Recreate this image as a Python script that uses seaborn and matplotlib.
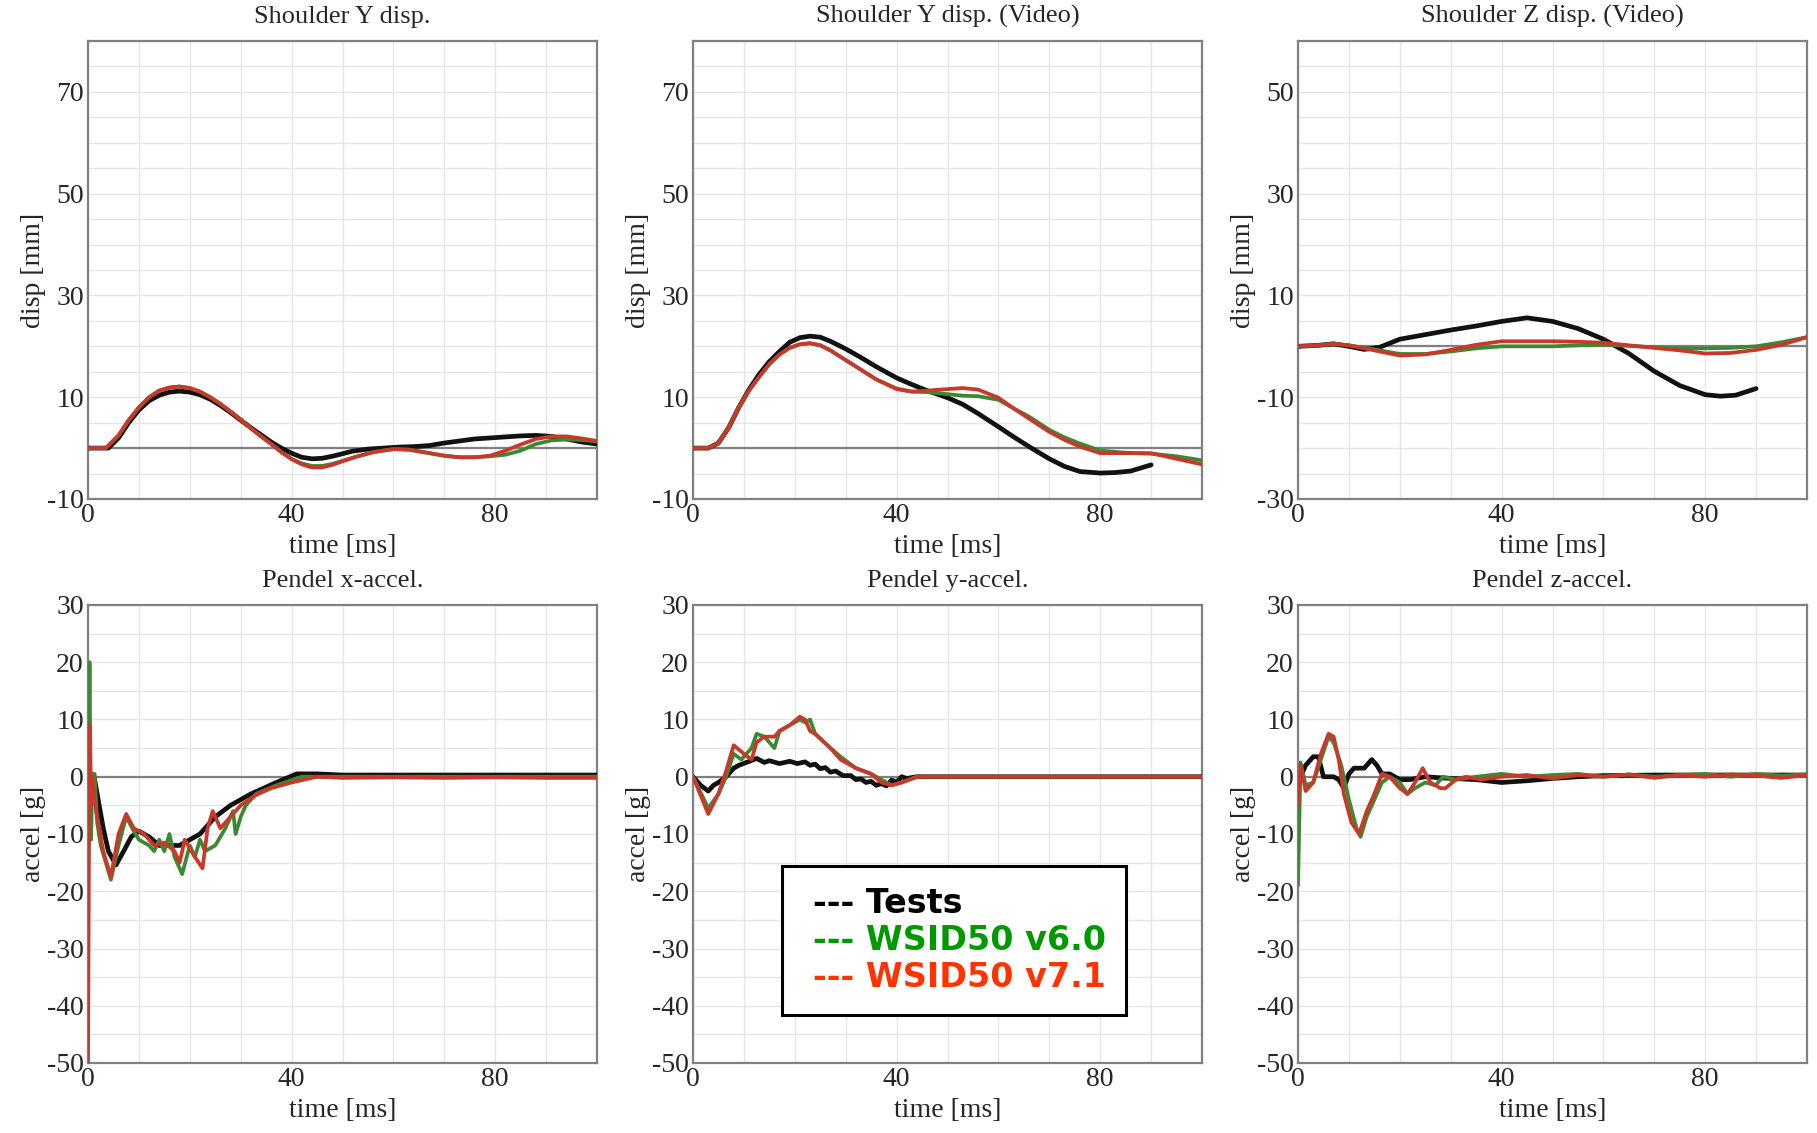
import numpy as np
import pandas as pd
import matplotlib
matplotlib.use("Agg")
import matplotlib.pyplot as plt
from matplotlib.ticker import MultipleLocator
from matplotlib.lines import Line2D
import seaborn as sns

sns.set_theme(style="whitegrid")
plt.rcParams['font.family'] = ['Liberation Serif', 'DejaVu Serif']
plt.rcParams['axes.unicode_minus'] = False

# ---- Shoulder Y disp. ----
p1_test_t = [0, 4, 6, 8, 10, 12, 14, 16, 18, 20, 22, 24, 26, 28, 30, 32, 34, 36, 38, 40, 42, 44, 46, 48, 50,
             52, 55, 58, 61, 64, 67, 70, 73, 76, 79, 82, 85, 88, 91, 94, 97, 100]
p1_test_v = [0, 0, 2, 5, 7.5, 9.3, 10.4, 11, 11.2, 11, 10.5, 9.6, 8.4, 7, 5.5, 4, 2.6, 1.2, 0, -1, -1.8, -2.1, -2,
             -1.6, -1.1, -0.6, -0.2, 0, 0.2, 0.3, 0.5, 1, 1.4, 1.8, 2, 2.2, 2.4, 2.5, 2.3, 1.8, 1.2, 0.8]
p1_sim_t = [0, 3.5, 6, 8, 10, 12, 14, 16, 18, 20, 22, 24, 26, 28, 30, 32, 34, 36, 38, 40, 42, 44, 46, 48, 50,
            53, 56, 60, 63, 66, 70, 73, 76, 79, 82, 85, 88, 91, 94, 97, 100]
p1_v60_v = [0, 0, 2.5, 5.5, 8, 10, 11.3, 11.9, 12.1, 11.8, 11.1, 10, 8.7, 7.2, 5.6, 3.9, 2.3, 0.8, -0.8, -2.1, -3,
            -3.5, -3.5, -3.1, -2.5, -1.6, -0.8, -0.2, -0.3, -0.8, -1.5, -1.8, -1.8, -1.6, -1.3, -0.5, 0.8, 1.5,
            1.7, 1.6, 1.3]
p1_v71_v = [0, 0, 2.5, 5.5, 8, 10, 11.3, 11.9, 12.1, 11.8, 11.1, 10, 8.7, 7.2, 5.6, 3.9, 2.3, 0.8, -0.8, -2.2, -3.2,
            -3.8, -3.8, -3.3, -2.6, -1.6, -0.8, -0.2, -0.3, -0.8, -1.5, -1.8, -1.8, -1.5, -0.5, 0.7, 1.8, 2.3,
            2.3, 1.9, 1.4]

# ---- Shoulder Y disp. (Video) ----
p2_test_t = [0, 3, 5, 7, 9, 11, 13, 15, 17, 19, 21, 23, 25, 27, 30, 33, 36, 40, 43, 46, 50, 53, 56, 60, 63, 66,
             70, 73, 76, 80, 83, 86, 90]
p2_test_v = [0, 0, 1, 4, 8, 11.5, 14.5, 17, 19, 20.8, 21.7, 22, 21.8, 21, 19.5, 17.8, 16, 13.8, 12.5, 11.3, 9.9,
             8.6, 6.8, 4.2, 2.2, 0.3, -2.1, -3.6, -4.6, -4.9, -4.8, -4.5, -3.3]
p2_sim_t = [0, 3, 5, 7, 9, 11, 13, 15, 17, 19, 21, 23, 25, 27, 30, 33, 36, 40, 43, 46, 50, 53, 56, 60, 63, 66,
            70, 73, 76, 80, 85, 90, 95, 100]
p2_v60_v = [0, 0, 1, 4, 8, 11.3, 14, 16.5, 18.4, 19.7, 20.4, 20.6, 20.2, 19.2, 17.3, 15.4, 13.5, 11.7, 11.1, 11,
            10.6, 10.3, 10.2, 9.5, 7.8, 6.2, 3.6, 2.1, 0.9, -0.5, -0.9, -1.1, -1.6, -2.4]
p2_v71_v = [0, 0, 1, 4, 8, 11.3, 14, 16.5, 18.4, 19.7, 20.4, 20.6, 20.2, 19.2, 17.3, 15.4, 13.5, 11.6, 11.1, 11.3,
            11.6, 11.8, 11.5, 9.9, 7.8, 5.8, 3.2, 1.6, 0.3, -1, -1, -1, -2.1, -3.2]

# ---- Shoulder Z disp. (Video) ----
p3_test_t = [0, 4, 7, 10, 13, 16, 20, 25, 30, 35, 40, 45, 50, 55, 60, 65, 70, 75, 80, 83, 86, 90]
p3_test_v = [0, 0.2, 0.5, 0, -0.6, -0.2, 1.4, 2.3, 3.2, 4, 4.9, 5.6, 4.9, 3.5, 1.4, -1.4, -4.9, -7.7, -9.5, -9.8,
             -9.6, -8.3]
p3_sim_t = [0, 4, 7, 10, 15, 20, 25, 30, 35, 40, 45, 50, 55, 60, 65, 70, 75, 80, 85, 90, 95, 100]
p3_v60_v = [0, 0.2, 0.5, 0.2, -0.6, -1.5, -1.5, -1, -0.4, 0, 0, 0, 0.2, 0.3, 0.1, -0.2, -0.4, -0.4, -0.3, 0, 0.8,
            1.8]
p3_v71_v = [0, 0.2, 0.5, 0.2, -0.8, -1.8, -1.6, -0.7, 0.3, 1, 1, 1, 0.9, 0.7, 0.2, -0.3, -0.8, -1.4, -1.3, -0.7,
            0.3, 1.8]

# ---- Pendel x-accel. ----
p4_test_t = [1.2, 2, 3, 4, 5.5, 7, 8.5, 10, 12, 14, 16, 18, 20, 22, 25, 28, 32, 37, 41, 45, 50, 60, 70, 80, 90, 100]
p4_test_v = [0, -4, -9, -13, -15.4, -13, -10.5, -9.5, -10.5, -12, -12, -12, -11, -10, -7, -5, -3, -1, 0.5, 0.5,
             0.3, 0.3, 0.3, 0.3, 0.3, 0.3]
p4_v60_t = [0, 0.3, 0.6, 0.9, 1.3, 1.8, 2.5, 3.5, 4.5, 6, 7.5, 9, 10, 12, 13, 14, 15, 16, 17, 18.5, 20, 21, 22,
            23, 25, 27, 28.5, 29, 30, 31, 33, 37, 42, 50, 60, 70, 80, 90, 100]
p4_v60_v = [-10, 20, -11, 0.5, 0.5, -8, -12, -15, -18, -12, -7, -9.5, -11, -12, -13, -11, -13, -10, -14, -17, -12,
            -14, -11, -13, -12, -9, -6, -10, -7, -5, -3, -1.5, 0, 0, 0, 0, 0, 0, 0]
p4_v71_t = [0, 0.3, 0.6, 0.9, 1.2, 1.6, 2.2, 3, 4.5, 6, 7.5, 9, 11, 13, 15, 17, 18, 19, 21, 22.5, 23.5, 24.5, 26,
            28, 30, 33, 36, 40, 45, 50, 60, 70, 80, 90, 100]
p4_v71_v = [-50, 9, -5, 0, -3, -6, -9, -13, -17.5, -10, -6.5, -9, -10, -12, -11.5, -13, -15, -11, -14, -16, -9,
            -6, -9, -7, -5, -3.2, -2, -1, 0, -0.2, -0.1, -0.2, -0.1, -0.2, -0.2]

# ---- Pendel y-accel. ----
p5_test_t = [0, 1.5, 3, 4, 5, 6.5, 8, 9, 10.5, 12.5, 14, 15, 17, 19, 20.5, 22, 23, 24, 25, 26, 27, 28, 29.5, 31,
             32, 33, 34, 35, 36, 37, 38, 39, 40, 41, 42, 44, 50, 60, 70, 80, 90, 100]
p5_test_v = [0, -1.5, -2.5, -1.5, -1, 0, 1.5, 2, 2.5, 3.2, 2.5, 2.8, 2.3, 2.7, 2.3, 2.6, 2, 2.2, 1.4, 1.6, 0.8,
             1, 0.2, 0.2, -0.5, -0.4, -1, -0.8, -1.5, -1.2, -1.6, -0.6, -0.9, 0, -0.3, 0, 0, 0, 0, 0, 0, 0]
p5_v60_t = [0, 3, 5, 6.5, 8, 9.5, 11.5, 12.5, 14, 15, 16, 17, 19, 21, 22, 23, 24, 27, 29, 32, 35, 37, 39, 41,
            44, 50, 60, 70, 80, 90, 100]
p5_v60_v = [0, -5.5, -3, 0, 4, 3, 5, 7.5, 7, 6, 5, 8, 9, 10, 9.5, 10, 7.5, 5, 3.5, 1.5, 0.5, -0.5, -1.5, -1, 0,
            0, 0, 0, 0, 0, 0]
p5_v71_t = [0, 3, 5, 6.5, 8, 10, 11.5, 12.5, 14, 16, 17, 19, 21, 22, 23, 24, 27, 29, 32, 35, 37, 39, 41, 44,
            50, 60, 70, 80, 90, 100]
p5_v71_v = [0, -6.5, -3, 1, 5.5, 4, 3, 6, 7, 7, 8, 9, 10.5, 10, 8, 7.5, 5, 3, 1.5, 0.5, -1, -1.5, -1, 0, 0, 0,
            0, 0, 0, 0]

# ---- Pendel z-accel. ----
p6_test_t = [0.5, 1.5, 3, 4, 5, 7, 8, 9, 10, 11, 13, 14.5, 15.5, 16.5, 18, 19, 20, 22, 25, 30, 35, 40, 45, 50,
             55, 60, 70, 80, 90, 100]
p6_test_v = [0, 2, 3.5, 3.5, 0, 0, -0.5, -2, 0.5, 1.5, 1.5, 3, 2, 0.5, 0.5, 0, -0.5, -0.5, 0, -0.3, -0.5, -1,
             -0.7, -0.3, 0, 0.2, 0.3, 0.3, 0.3, 0.3]
p6_v60_t = [0, 0.5, 1.5, 3, 4.5, 6, 7, 8.5, 10, 11.5, 12.3, 13.5, 15, 16.5, 18, 20, 21.5, 23, 25, 27, 28.5, 31,
            35, 40, 45, 50, 55, 60, 65, 70, 75, 80, 85, 90, 95, 100]
p6_v60_v = [-19, 2.5, -1.5, -1, 3, 7, 6, 2, -4, -9, -10.5, -7, -4, -1, 0, -1, -3, -2, -1, -1.5, 0, -0.5, 0, 0.5,
            0, 0.3, 0.5, 0, 0.4, 0, 0.3, 0.5, 0, 0.5, 0.2, 0.4]
p6_v71_t = [0, 0.5, 1.5, 3, 4.5, 6, 7, 8, 9, 10.5, 12, 13.5, 15, 16.5, 18, 20, 21.5, 23, 24.5, 26, 28, 29, 31,
            33, 36, 40, 45, 50, 55, 60, 65, 70, 75, 80, 85, 90, 95, 100]
p6_v71_v = [-5, 2, -2.5, -1, 4, 7.5, 7, 3, -3, -8, -10, -6, -3, 0.5, 0, -2, -3, -1, 1.5, -1, -2, -2, -0.5, 0,
            -0.5, 0, 0.3, -0.3, 0.3, 0, 0.4, -0.2, 0.3, 0, 0.4, 0.2, -0.2, 0.3]

titles = ["Shoulder Y disp.", "Shoulder Y disp. (Video)", "Shoulder Z disp. (Video)",
          "Pendel x-accel.", "Pendel y-accel.", "Pendel z-accel."]
ylabels = ["disp [mm]"] * 3 + ["accel [g]"] * 3
ylims = [(-10, 80), (-10, 80), (-30, 60), (-50, 30), (-50, 30), (-50, 30)]
yticks = [[-10, 10, 30, 50, 70], [-10, 10, 30, 50, 70], [-30, -10, 10, 30, 50],
          list(range(-50, 31, 10)), list(range(-50, 31, 10)), list(range(-50, 31, 10))]

series = [
    ((p1_test_t, p1_test_v), (p1_sim_t, p1_v60_v), (p1_sim_t, p1_v71_v)),
    ((p2_test_t, p2_test_v), (p2_sim_t, p2_v60_v), (p2_sim_t, p2_v71_v)),
    ((p3_test_t, p3_test_v), (p3_sim_t, p3_v60_v), (p3_sim_t, p3_v71_v)),
    ((p4_test_t, p4_test_v), (p4_v60_t, p4_v60_v), (p4_v71_t, p4_v71_v)),
    ((p5_test_t, p5_test_v), (p5_v60_t, p5_v60_v), (p5_v71_t, p5_v71_v)),
    ((p6_test_t, p6_test_v), (p6_v60_t, p6_v60_v), (p6_v71_t, p6_v71_v)),
]
names = ["Tests", "WSID50 v6.0", "WSID50 v7.1"]
line_colors = {"Tests": "#111111", "WSID50 v6.0": "#3b8a33", "WSID50 v7.1": "#c8382b"}
line_widths = {"Tests": 3.4, "WSID50 v6.0": 2.7, "WSID50 v7.1": 2.7}
legend_colors = ["#000000", "#009900", "#ff3300"]

fig = plt.figure(figsize=(18.17, 11.33), dpi=100)
lefts = [88 / 1817, 693 / 1817, 1298 / 1817]
bottoms = [1 - 499 / 1133, 1 - 1063 / 1133]
w, h = 509 / 1817, 458 / 1133

for i in range(6):
    ax = fig.add_axes([lefts[i % 3], bottoms[i // 3], w, h])
    rows = []
    for name, (t, v) in zip(names, series[i]):
        rows.append(pd.DataFrame({"t": t, "v": v, "series": name}))
    df = pd.concat(rows, ignore_index=True)
    ax.axhline(0, color="#808080", lw=1.6, zorder=1)
    for name in names:
        sns.lineplot(data=df[df.series == name], x="t", y="v", color=line_colors[name],
                     lw=line_widths[name], estimator=None, sort=False, ax=ax, legend=False, zorder=3)
    ax.set_xlim(0, 100)
    ax.set_ylim(*ylims[i])
    ax.set_xticks([0, 40, 80])
    ax.set_yticks(yticks[i])
    ax.xaxis.set_minor_locator(MultipleLocator(10))
    ax.yaxis.set_minor_locator(MultipleLocator(5))
    ax.grid(which="both", color="#e6e6e6", lw=1.0)
    ax.set_axisbelow(True)
    ax.tick_params(which="both", length=0, pad=3, labelsize=20)
    ax.set_title(titles[i], fontsize=19, pad=13)
    ax.set_xlabel("time [ms]", fontsize=20, labelpad=4)
    ax.set_ylabel(ylabels[i], fontsize=20, labelpad=1)
    for sp in ax.spines.values():
        sp.set_visible(True)
        sp.set_color("#808080")
        sp.set_linewidth(1.6)

handles = [Line2D([], [], color=c, lw=0) for c in legend_colors]
leg = fig.legend(handles, ["--- " + n for n in names], loc="upper left",
                 bbox_to_anchor=(782 / 1817, 1 - 866 / 1133), borderaxespad=0, frameon=True,
                 fancybox=False, framealpha=1, edgecolor="black", handlelength=0.3, handletextpad=0,
                 labelspacing=0.13, borderpad=0.62,
                 prop={"family": "DejaVu Sans", "weight": "bold", "size": 24})
leg.get_frame().set_linewidth(2.2)
for txt, c in zip(leg.get_texts(), legend_colors):
    txt.set_color(c)

fig.savefig("out.png", dpi=100)
